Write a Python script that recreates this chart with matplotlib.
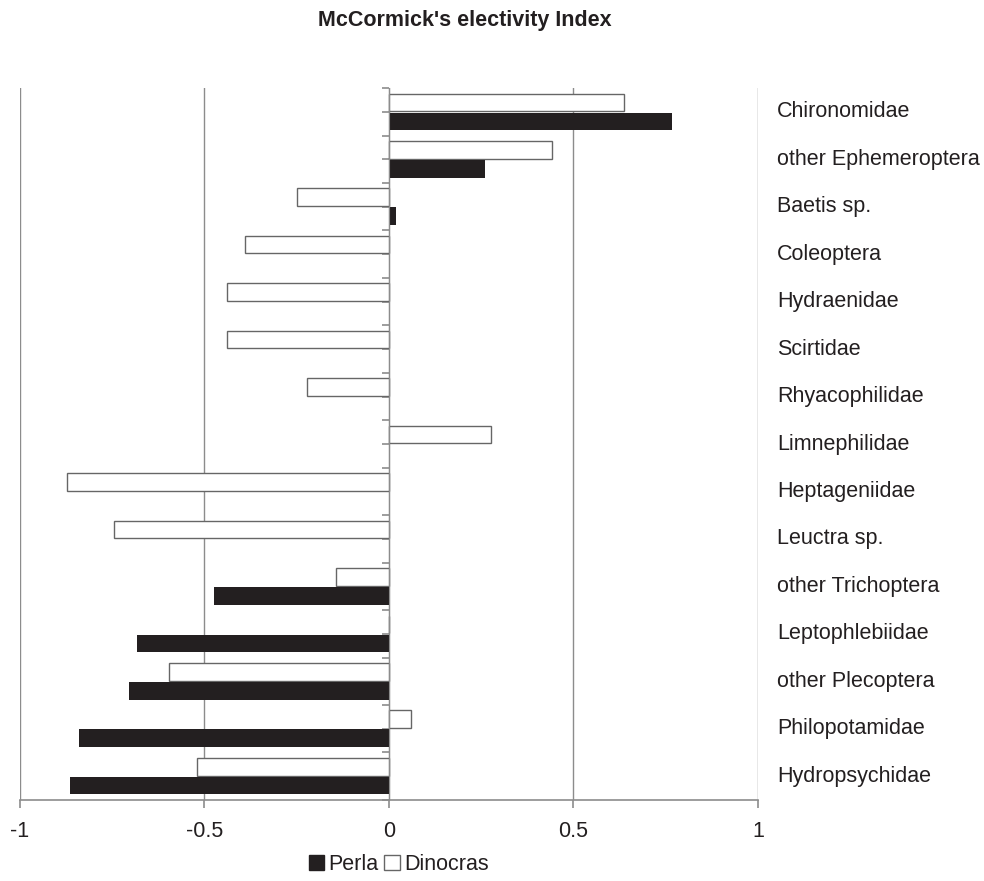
import numpy as np
import matplotlib
matplotlib.use('Agg')
import matplotlib.pyplot as plt
from matplotlib.patches import Patch
import matplotlib.transforms as mtransforms

plt.rcParams['font.family'] = ['Liberation Sans', 'DejaVu Sans']

# data set
taxa = ['Chironomidae', 'other Ephemeroptera', 'Baetis sp.', 'Coleoptera',
        'Hydraenidae', 'Scirtidae', 'Rhyacophilidae', 'Limnephilidae',
        'Heptageniidae', 'Leuctra sp.', 'other Trichoptera', 'Leptophlebiidae',
        'other Plecoptera', 'Philopotamidae', 'Hydropsychidae']
perla = [0.766, 0.261, 0.020, 0, 0, 0, 0, 0, 0, 0,
         -0.474, -0.684, -0.704, -0.841, -0.865]
dinocras = [0.638, 0.441, -0.250, -0.390, -0.439, -0.439, -0.222, 0.276,
            -0.872, -0.744, -0.143, 0, -0.596, 0.061, -0.521]
xticks = [-1, -0.5, 0, 0.5, 1]
xticklabels = ['-1', '-0.5', '0', '0.5', '1']

grey = '#8c8c8c'
txt = '#231f20'

fig = plt.figure(figsize=(9.84, 8.81), dpi=100)
ax = fig.add_axes([0.0203, 0.092, 0.7500, 0.808])

y = np.arange(len(taxa))
h = 0.37
ax.barh(y - 0.2, dinocras, height=h, color='white', edgecolor='#666666', linewidth=1.0, zorder=3)
ax.barh(y + 0.2, perla, height=h, color=txt, edgecolor='none', zorder=3)

ax.set_xlim(-1, 1)
ax.set_ylim(14.5, -0.5)

for gx in xticks:
    ax.axvline(gx, color=grey, linewidth=1.0, zorder=1)

for s in ['top', 'right']:
    ax.spines[s].set_visible(False)
ax.spines['bottom'].set_color(grey)
ax.spines['bottom'].set_linewidth(1.2)
ax.spines['left'].set_position(('data', 0))
ax.spines['left'].set_color(grey)
ax.spines['left'].set_zorder(4)

ax.set_xticks(xticks)
ax.set_xticklabels(xticklabels)
ax.tick_params(axis='x', direction='out', length=6, width=1.2, color=grey,
               labelsize=15.5, labelcolor=txt, pad=9)
ax.set_yticks(np.arange(-0.5, len(taxa), 0.5))
ax.tick_params(axis='y', direction='out', length=5, width=1.2, color=grey,
               labelleft=False)

trans = mtransforms.blended_transform_factory(ax.transAxes, ax.transData)
for i, name in enumerate(taxa):
    ax.text(1.026, i, name, transform=trans, ha='left', va='center',
            fontsize=15.5, color=txt)

fig.text(0.4725, 0.977, "McCormick's electivity Index", ha='center', va='center',
         fontsize=15.5, fontweight='bold', color=txt)

handles = [Patch(facecolor=txt, edgecolor=txt, label='Perla'),
           Patch(facecolor='white', edgecolor='#666666', label='Dinocras')]
fig.legend(handles=handles, loc='center', bbox_to_anchor=(0.405, 0.019), ncol=2,
           frameon=False, fontsize=15.5, handlelength=0.7, handleheight=0.7,
           handletextpad=0.2, columnspacing=0.3, labelcolor=txt)

plt.savefig('out.png', dpi=100)
